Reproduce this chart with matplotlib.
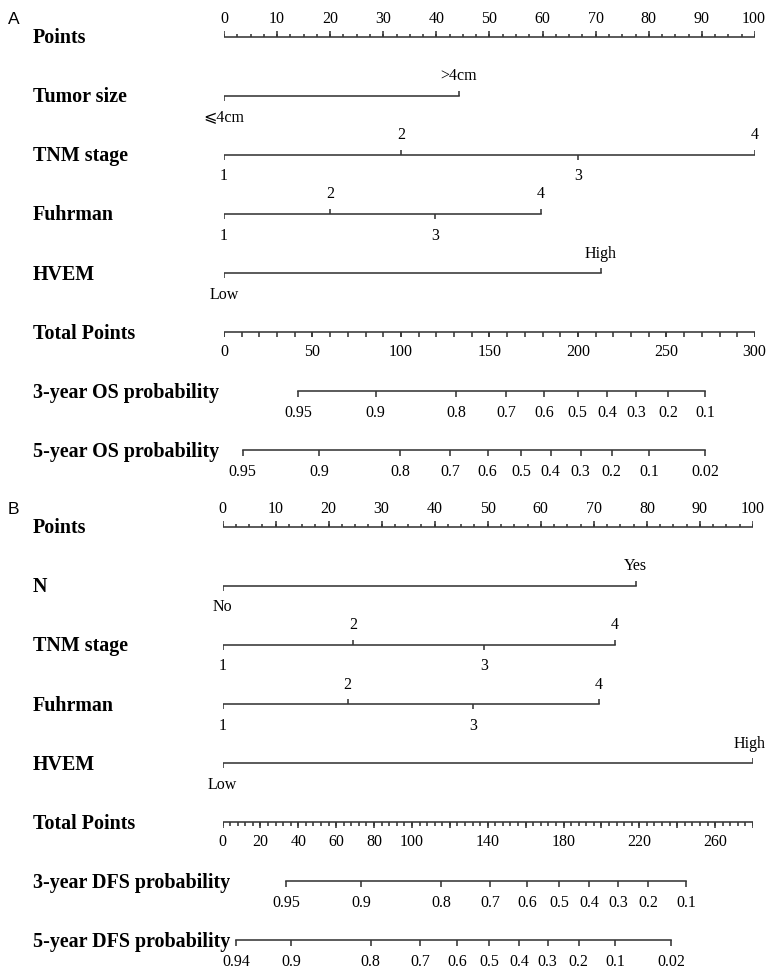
import matplotlib.pyplot as plt
from matplotlib.transforms import blended_transform_factory, ScaledTranslation

plt.rcParams['font.family'] = ['Liberation Serif', 'DejaVu Sans', 'DejaVu Serif']

# ---- panel A (OS) ----
a_tumor_labels = ['⩽4cm', '>4cm']
a_tumor_pts = [0, 44.2]
a_tnm_labels = ['1', '2', '3', '4']
a_tnm_pts = [0, 33.4, 66.7, 100]
a_fuhrman_labels = ['1', '2', '3', '4']
a_fuhrman_pts = [0, 20.0, 39.7, 59.7]
a_hvem_labels = ['Low', 'High']
a_hvem_pts = [0, 71.0]
a_total_max = 300
a_total_labels = [0, 50, 100, 150, 200, 250, 300]
a_os3_probs = [0.95, 0.9, 0.8, 0.7, 0.6, 0.5, 0.4, 0.3, 0.2, 0.1]
a_os3_total = [42.0, 85.6, 131.1, 159.5, 180.8, 199.8, 216.4, 232.9, 250.9, 271.8]
a_os5_probs = [0.95, 0.9, 0.8, 0.7, 0.6, 0.5, 0.4, 0.3, 0.2, 0.1, 0.02]
a_os5_total = [10.5, 53.8, 99.4, 127.8, 149.0, 167.8, 184.6, 201.5, 219.1, 240.1, 271.8]

# ---- panel B (DFS) ----
b_n_labels = ['No', 'Yes']
b_n_pts = [0, 77.9]
b_tnm_labels = ['1', '2', '3', '4']
b_tnm_pts = [0, 24.6, 49.3, 74.0]
b_fuhrman_labels = ['1', '2', '3', '4']
b_fuhrman_pts = [0, 23.6, 47.3, 71.0]
b_hvem_labels = ['Low', 'High']
b_hvem_pts = [0, 100]
b_total_max = 280
b_total_labels = [0, 20, 40, 60, 80, 100, 140, 180, 220, 260]
b_dfs3_probs = [0.95, 0.9, 0.8, 0.7, 0.6, 0.5, 0.4, 0.3, 0.2, 0.1]
b_dfs3_total = [33.5, 73.3, 115.4, 141.2, 160.8, 177.8, 193.5, 208.8, 224.8, 244.6]
b_dfs5_probs = [0.94, 0.9, 0.8, 0.7, 0.6, 0.5, 0.4, 0.3, 0.2, 0.1, 0.02]
b_dfs5_total = [7.2, 36.4, 78.2, 104.5, 123.9, 140.9, 156.4, 171.6, 187.9, 207.2, 236.9]

W, H = 767, 972
ROW = 59.1  # pixels between rows
LINE = '#363636'
LW = 1.15
TITLE_KW = dict(fontsize=14.4, fontweight='bold', va='center', ha='left')
TICK_FS = 11.5

fig = plt.figure(figsize=(W / 100, H / 100), dpi=100)


def px(p):
    return p / ROW


def make_axes(x0, x1, y0):
    top = y0 - 0.5 * ROW
    ax = fig.add_axes([x0 / W, 1 - (top + 8 * ROW) / H, (x1 - x0) / W, 8 * ROW / H])
    ax.set_xlim(0, 100)
    ax.set_ylim(7.5, -0.5)
    ax.axis('off')
    return ax


def title(ax, row, text):
    tr = blended_transform_factory(fig.transFigure, ax.transData)
    ax.text(33 / W, row + px(1.5), text, transform=tr, clip_on=False, **TITLE_KW)


def points_axis(ax, row):
    ax.plot([0, 100], [row, row], color=LINE, lw=LW)
    minor = [i * 2.5 for i in range(41)]
    ax.vlines(minor, row, row - px(3), color=LINE, lw=LW)
    major = list(range(0, 101, 10))
    ax.vlines(major, row, row - px(6), color=LINE, lw=LW)
    for v in major:
        ax.text(v, row - px(18), str(v), ha='center', va='center', fontsize=TICK_FS)


def predictor(ax, row, labels, pts):
    ax.plot([min(pts), max(pts)], [row, row], color=LINE, lw=LW)
    for i, (lab, x) in enumerate(zip(labels, pts)):
        if i % 2 == 0:
            ax.vlines(x, row, row + px(5), color=LINE, lw=LW)
            ax.text(x, row + px(21.5), lab, ha='center', va='center', fontsize=TICK_FS)
        else:
            ax.vlines(x, row, row - px(5), color=LINE, lw=LW)
            ax.text(x, row - px(19.5), lab, ha='center', va='center', fontsize=TICK_FS)


def total_axis(ax, row, tmax, labels, minor_step, major_step, minor_len, major_len):
    k = 100 / tmax
    ax.plot([0, 100], [row, row], color=LINE, lw=LW)
    minor = [i * minor_step * k for i in range(int(tmax / minor_step) + 1)]
    ax.vlines(minor, row, row + px(minor_len), color=LINE, lw=LW)
    major = [i * major_step * k for i in range(int(tmax / major_step) + 1)]
    ax.vlines(major, row, row + px(major_len), color=LINE, lw=LW)
    for v in labels:
        ax.text(v * k, row + px(19.5), str(v), ha='center', va='center', fontsize=TICK_FS)


def prob_axis(ax, row, tmax, probs, totals):
    k = 100 / tmax
    xs = [t * k for t in totals]
    ax.plot([min(xs), max(xs)], [row, row], color=LINE, lw=LW)
    ax.vlines(xs, row, row + px(6), color=LINE, lw=LW)
    for p, x in zip(probs, xs):
        ax.text(x, row + px(21.5), f'{p:g}', ha='center', va='center', fontsize=TICK_FS)


def keep_inside(ax, margin=1.0):
    # nudge labels that would run past the right edge of the figure
    renderer = fig.canvas.get_renderer()
    for t in ax.texts:
        bb = t.get_window_extent(renderer)
        over = bb.x1 - (W - margin)
        if over > 0:
            t.set_transform(t.get_transform() + ScaledTranslation(-over / 100, 0, fig.dpi_scale_trans))


# panel A
axA = make_axes(224, 755, 36.7)
fig.text(8 / W, 1 - 19 / H, 'A', family='Liberation Sans', fontsize=12.5, va='center', ha='left')
rows_a = ['Points', 'Tumor size', 'TNM stage', 'Fuhrman', 'HVEM', 'Total Points',
          '3-year OS probability', '5-year OS probability']
for r, t in enumerate(rows_a):
    title(axA, r, t)
points_axis(axA, 0)
predictor(axA, 1, a_tumor_labels, a_tumor_pts)
predictor(axA, 2, a_tnm_labels, a_tnm_pts)
predictor(axA, 3, a_fuhrman_labels, a_fuhrman_pts)
predictor(axA, 4, a_hvem_labels, a_hvem_pts)
total_axis(axA, 5, a_total_max, a_total_labels, 10, 50, 5, 5)
prob_axis(axA, 6, a_total_max, a_os3_probs, a_os3_total)
prob_axis(axA, 7, a_total_max, a_os5_probs, a_os5_total)

# panel B
axB = make_axes(222.5, 753, 526.7)
fig.text(8 / W, 1 - 509 / H, 'B', family='Liberation Sans', fontsize=12.5, va='center', ha='left')
rows_b = ['Points', 'N', 'TNM stage', 'Fuhrman', 'HVEM', 'Total Points',
          '3-year DFS probability', '5-year DFS probability']
for r, t in enumerate(rows_b):
    title(axB, r, t)
points_axis(axB, 0)
predictor(axB, 1, b_n_labels, b_n_pts)
predictor(axB, 2, b_tnm_labels, b_tnm_pts)
predictor(axB, 3, b_fuhrman_labels, b_fuhrman_pts)
predictor(axB, 4, b_hvem_labels, b_hvem_pts)
total_axis(axB, 5, b_total_max, b_total_labels, 4, 20, 4, 6)
prob_axis(axB, 6, b_total_max, b_dfs3_probs, b_dfs3_total)
prob_axis(axB, 7, b_total_max, b_dfs5_probs, b_dfs5_total)

keep_inside(axA)
keep_inside(axB)

fig.savefig('out.png', dpi=100)
